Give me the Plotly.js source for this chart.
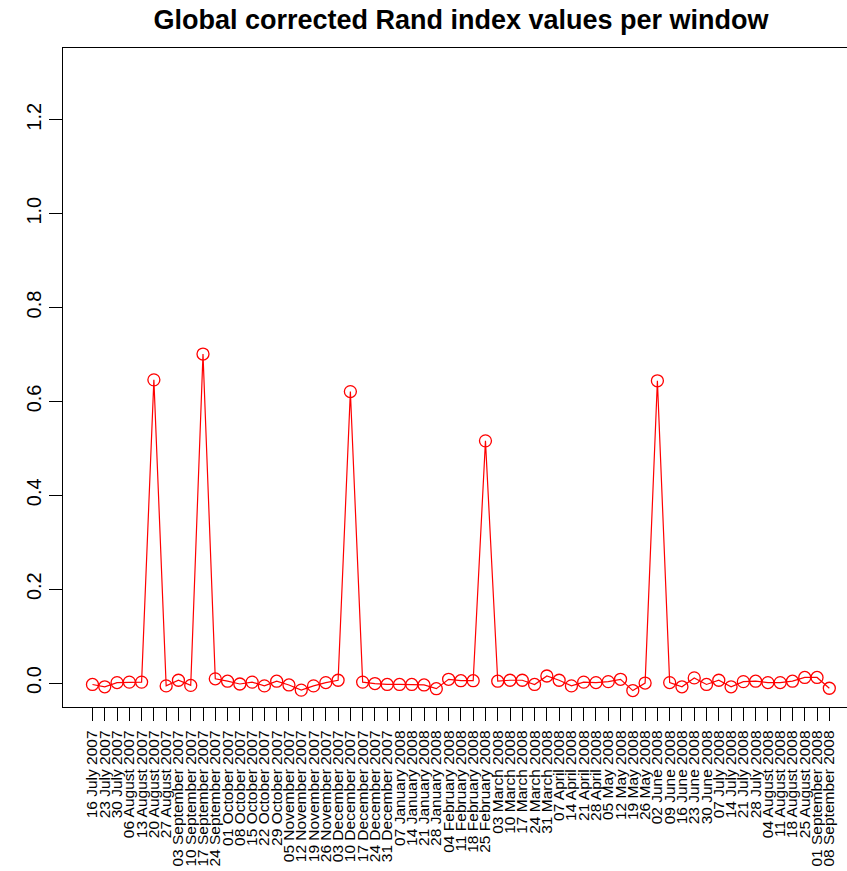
<!DOCTYPE html>
<html>
<head>
<meta charset="utf-8">
<script src="https://cdn.plot.ly/plotly-3.0.1.min.js"></script>
<style>html,body{margin:0;padding:0;background:#fff;}#chart{width:847px;height:871px;}</style>
</head>
<body>
<div id="chart"></div>
<script>
const windowLabels = [
  "16 July 2007","23 July 2007","30 July 2007","06 August 2007","13 August 2007","20 August 2007","27 August 2007",
  "03 September 2007","10 September 2007","17 September 2007","24 September 2007",
  "01 October 2007","08 October 2007","15 October 2007","22 October 2007","29 October 2007",
  "05 November 2007","12 November 2007","19 November 2007","26 November 2007",
  "03 December 2007","10 December 2007","17 December 2007","24 December 2007","31 December 2007",
  "07 January 2008","14 January 2008","21 January 2008","28 January 2008",
  "04 February 2008","11 February 2008","18 February 2008","25 February 2008",
  "03 March 2008","10 March 2008","17 March 2008","24 March 2008","31 March 2008",
  "07 April 2008","14 April 2008","21 April 2008","28 April 2008",
  "05 May 2008","12 May 2008","19 May 2008","26 May 2008",
  "02 June 2008","09 June 2008","16 June 2008","23 June 2008","30 June 2008",
  "07 July 2008","14 July 2008","21 July 2008","28 July 2008",
  "04 August 2008","11 August 2008","18 August 2008","25 August 2008",
  "01 September 2008","08 September 2008"
];
const randValues = [
  -0.003,-0.008,0.001,0.002,0.002,0.646,-0.006,0.006,-0.005,0.701,
  0.009,0.004,-0.002,0.002,-0.006,0.004,-0.004,-0.015,-0.006,0.001,
  0.006,0.621,0.002,-0.001,-0.003,-0.003,-0.003,-0.004,-0.012,0.008,
  0.005,0.005,0.516,0.004,0.006,0.006,-0.003,0.015,0.006,-0.006,
  0.002,0.001,0.003,0.008,-0.016,0.000,0.644,0.001,-0.008,0.011,
  -0.003,0.006,-0.008,0.003,0.004,0.001,0.001,0.004,0.012,0.012,
  -0.011
];
const yTickVals = [0, 0.2, 0.4, 0.6, 0.8, 1.0, 1.2];
const yTickText = ["0.0","0.2","0.4","0.6","0.8","1.0","1.2"];
const chartTitle = "Global corrected Rand index values per window";

const xIdx = windowLabels.map((_, i) => i + 1);
const FONT = "Liberation Sans, Arial, Helvetica, sans-serif";

const trace = {
  x: xIdx,
  y: randValues,
  type: "scatter",
  mode: "lines+markers",
  line: {color: "#ff0000", width: 1.2},
  marker: {symbol: "circle-open", size: 12, color: "#ff0000", line: {color: "#ff0000", width: 1.3}},
  hoverinfo: "x+y"
};

const layout = {
  width: 847,
  height: 871,
  paper_bgcolor: "#ffffff",
  plot_bgcolor: "#ffffff",
  margin: {l: 63, r: 0, t: 48, b: 164},
  showlegend: false,
  title: {
    text: "<b>" + chartTitle + "</b>",
    font: {family: FONT, size: 27, color: "#000"},
    x: 461/847, xref: "container", xanchor: "center",
    y: 1 - 20/871, yref: "container", yanchor: "middle"
  },
  xaxis: {
    range: [-1.4, 62.44],
    tickmode: "array",
    tickvals: xIdx,
    ticktext: windowLabels,
    tickangle: -90,
    ticks: "outside",
    ticklen: 13,
    tickwidth: 1,
    tickcolor: "#000",
    showgrid: false,
    zeroline: false,
    showline: true,
    mirror: true,
    linecolor: "#000",
    linewidth: 1.2,
    ticklabelstandoff: 3,
    tickfont: {family: FONT, size: 15.5, color: "#000"}
  },
  yaxis: {
    range: [-0.051, 1.353],
    tickmode: "array",
    tickvals: yTickVals,
    ticktext: yTickText,
    tickangle: -90,
    ticks: "outside",
    ticklen: 13,
    tickwidth: 1,
    tickcolor: "#000",
    showgrid: false,
    zeroline: false,
    showline: true,
    mirror: false,
    linecolor: "#000",
    linewidth: 1.2,
    ticklabelstandoff: 0,
    tickfont: {family: FONT, size: 20, color: "#000"}
  }
};

Plotly.newPlot("chart", [trace], layout, {displayModeBar: false, staticPlot: true});
</script>
</body>
</html>
